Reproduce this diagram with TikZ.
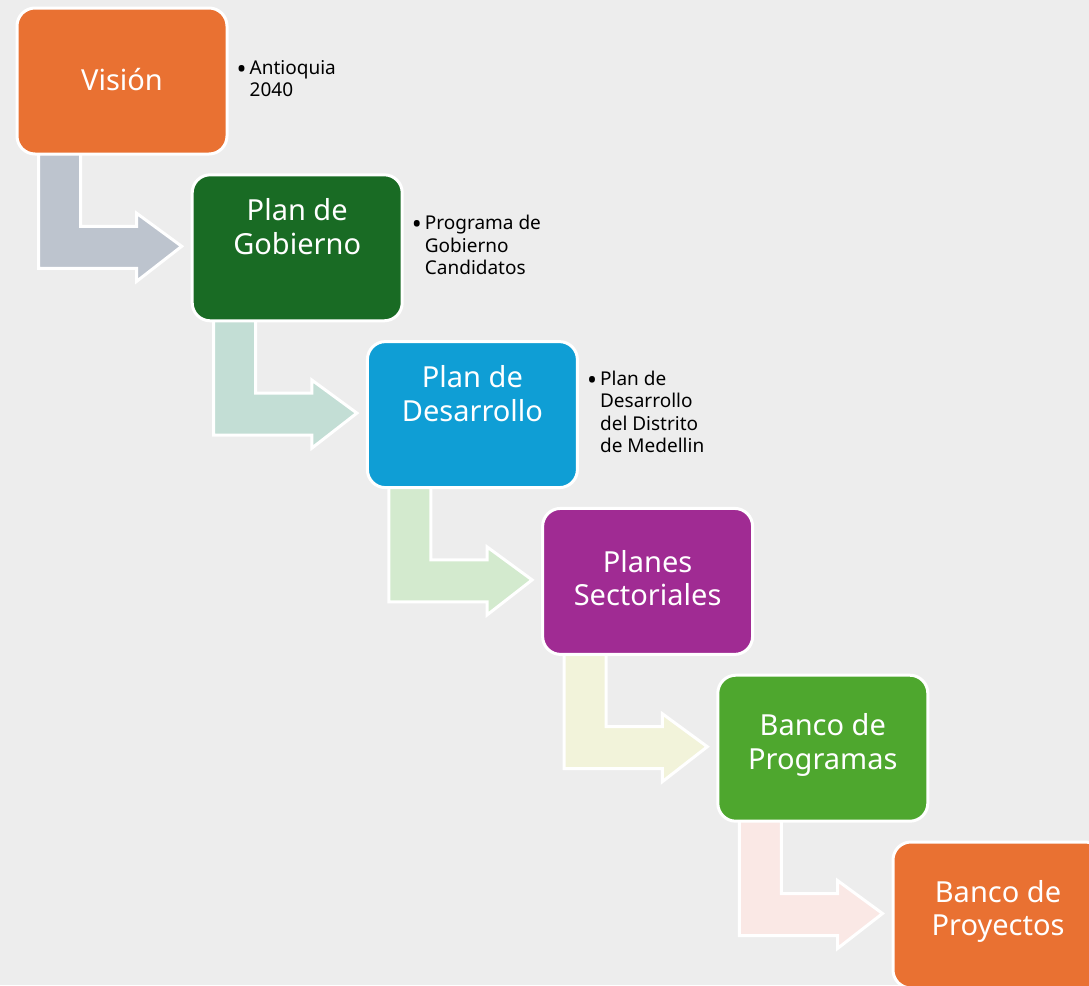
\documentclass[tikz,border=0pt]{standalone}
\usepackage{fontspec}
\setmainfont{Noto Sans}
\usetikzlibrary{calc}
\definecolor{bg}{HTML}{EDEDED}
\definecolor{corange}{HTML}{E97132}
\definecolor{cdgreen}{HTML}{196B24}
\definecolor{cblue}{HTML}{0F9ED5}
\definecolor{cpurple}{HTML}{A02B93}
\definecolor{cgreen}{HTML}{4EA72E}
\definecolor{aone}{HTML}{BDC4CE}
\definecolor{atwo}{HTML}{C3DED5}
\definecolor{athree}{HTML}{D3EACE}
\definecolor{afour}{HTML}{F2F3DA}
\definecolor{afive}{HTML}{FAE8E5}
\tikzset{
  stagebox/.style={draw=white, line width=3pt, rounded corners=18pt,
    minimum width=210pt, minimum height=146pt, inner sep=0pt},
  boxtext/.style={text=white, align=center, inner sep=0pt,
    font=\fontsize{29}{33.5}\selectfont},
  sidetext/.style={anchor=west, inner sep=0pt, text=black,
    font=\fontsize{19}{22.5}\selectfont},
  bentarrow/.style={draw=white, line width=3pt, line join=miter}
}
\newcommand{\bentarrow}[3]{%
  \path[bentarrow, fill=#3] let \p1=(#1.south west), \p2=(#2.north west) in
    (\x1+23pt,\y1+2pt) -- (\x1+65pt,\y1+2pt) -- (\x1+65pt,\y2-53pt)
    -- (\x2-54pt,\y2-53pt) -- (\x2-54pt,\y2-40pt) -- (\x2-9pt,\y2-73pt)
    -- (\x2-54pt,\y2-108pt) -- (\x2-54pt,\y2-95pt) -- (\x1+23pt,\y2-95pt) -- cycle;}
\newcommand{\bul}{\makebox[8pt][c]{\smash{\raisebox{-4pt}{\scalebox{1.4}{•}}}}}
\begin{document}
\begin{tikzpicture}[x=1pt,y=-1pt]
\fill[bg] (0,0) rectangle (1089,985);
\useasboundingbox (0,0) rectangle (1089,985);
\path (122,81) coordinate (c1) (297.2,247.8) coordinate (c2) (472.4,414.6) coordinate (c3)
      (647.6,581.4) coordinate (c4) (822.8,748.2) coordinate (c5) (998,915) coordinate (c6);
\path node[stagebox, draw=none] (g1) at (c1) {}
      node[stagebox, draw=none] (g2) at (c2) {}
      node[stagebox, draw=none] (g3) at (c3) {}
      node[stagebox, draw=none] (g4) at (c4) {}
      node[stagebox, draw=none] (g5) at (c5) {}
      node[stagebox, draw=none] (g6) at (c6) {};
% arrows
\bentarrow{g1}{g2}{aone}
\bentarrow{g2}{g3}{atwo}
\bentarrow{g3}{g4}{athree}
\bentarrow{g4}{g5}{afour}
\bentarrow{g5}{g6}{afive}
% boxes
\node[stagebox, fill=corange] (b1) at (c1) {};
\node[stagebox, fill=cdgreen] (b2) at (c2) {};
\node[stagebox, fill=cblue] (b3) at (c3) {};
\node[stagebox, fill=cpurple] (b4) at (c4) {};
\node[stagebox, fill=cgreen] (b5) at (c5) {};
\node[stagebox, fill=corange] (b6) at (c6) {};
% box texts
\node[boxtext] (t1) at ($(b1.center)+(0,-1)$) {Visión};
\node[boxtext] (t2) at ($(b2.north)+(0,53.5)$) {Plan de\\Gobierno};
\node[boxtext] (t3) at ($(b3.north)+(0,53.5)$) {Plan de\\Desarrollo};
\node[boxtext] (t4) at ($(b4.north)+(0,71)$) {Planes\\Sectoriales};
\node[boxtext] (t5) at ($(b5.north)+(0,71)$) {Banco de\\Programas};
\node[boxtext] (t6) at ($(b6.north)+(0,71)$) {Banco de\\Proyectos};
% side texts
\node[sidetext] (s1) at ($(b1.east)+(9,0)$)
  {\begin{tabular}{@{}l@{\hspace{4pt}}l@{}}\bul&Antioquia\\&2040\end{tabular}};
\node[sidetext] (s2) at ($(b2.east)+(9,0)$)
  {\begin{tabular}{@{}l@{\hspace{4pt}}l@{}}\bul&Programa de\\&Gobierno\\&Candidatos\end{tabular}};
\node[sidetext] (s3) at ($(b3.east)+(9,0)$)
  {\begin{tabular}{@{}l@{\hspace{4pt}}l@{}}\bul&Plan de\\&Desarrollo\\&del Distrito\\&de Medellin\end{tabular}};
\end{tikzpicture}
\end{document}
